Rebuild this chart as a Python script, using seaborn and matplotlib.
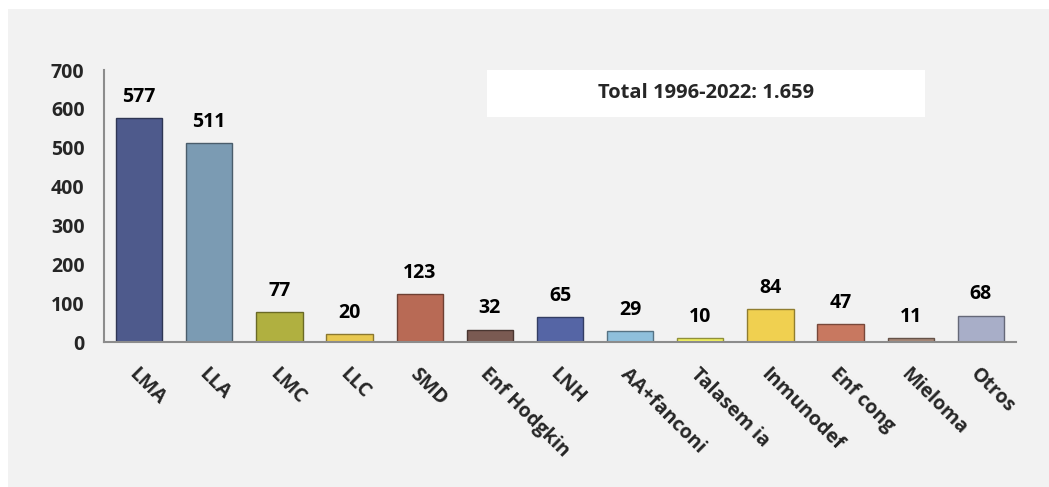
import matplotlib
matplotlib.use("Agg")
import matplotlib.pyplot as plt
import matplotlib.patches as mpatches
import seaborn as sns
import pandas as pd

# data
categories = ["LMA", "LLA", "LMC", "LLC", "SMD", "Enf Hodgkin", "LNH",
              "AA+fanconi", "Talasem ia", "Inmunodef", "Enf cong", "Mieloma", "Otros"]
values = [577, 511, 77, 20, 123, 32, 65, 29, 10, 84, 47, 11, 68]
bar_colors = ["#4e5a8c", "#7b9bb3", "#b0b040", "#e8c850", "#b86a55", "#7a5a52",
              "#5565a5", "#8fc0dc", "#f0f060", "#f0d050", "#c87860", "#a88878", "#a8aec8"]
y_ticks = [0, 100, 200, 300, 400, 500, 600, 700]
total_text = "Total 1996-2022: 1.659"

sns.set_style("white")
plt.rcParams["font.family"] = ["Open Sans", "DejaVu Sans"]
plt.rcParams["font.weight"] = "bold"

df = pd.DataFrame({"cat": categories, "val": values})

fig = plt.figure(figsize=(10.49, 4.87), dpi=100, facecolor="white")
# gray chart area
bg = mpatches.Rectangle((8 / 1049, 0), 1 - 8 / 1049, 1 - 9 / 487,
                        transform=fig.transFigure, facecolor="#f2f2f2",
                        edgecolor="none", zorder=-10)
fig.patches.append(bg)

ax = fig.add_axes([104 / 1049, 1 - 342 / 487, (1016 - 104) / 1049, (342 - 70) / 487])
ax.set_facecolor("none")
ax.set_zorder(2)

sns.barplot(data=df, x="cat", y="val", hue="cat", palette=bar_colors,
            legend=False, width=0.66, ax=ax, saturation=1)

for patch, c in zip(ax.patches, bar_colors):
    r, g, b, _ = matplotlib.colors.to_rgba(c)
    patch.set_edgecolor((r * 0.6, g * 0.6, b * 0.6))
    patch.set_linewidth(1.0)

for cont in ax.containers:
    ax.bar_label(cont, padding=8, fontsize=14, fontweight="bold", color="black")

ax.set_xlim(-0.5, len(categories) - 0.5)
ax.set_ylim(0, 700)
ax.set_yticks(y_ticks)
ax.set_xlabel("")
ax.set_ylabel("")

ax.set_xticks(range(len(categories)))
ax.set_xticklabels(categories, rotation=-45, ha="left", va="top",
                   rotation_mode="anchor", fontsize=14, fontweight="bold")
ax.set_xticks([i - 0.5 for i in range(len(categories) + 1)], minor=True)
ax.tick_params(axis="x", which="major", length=0, pad=16)
ax.tick_params(axis="x", which="minor", length=6, color="#8c8c8c", width=1.2, direction="out")
ax.tick_params(axis="y", length=6, color="#8c8c8c", width=1.2, direction="out",
               labelsize=14, pad=8)
for lab in ax.get_yticklabels():
    lab.set_fontweight("bold")
for lab in ax.get_xticklabels():
    x, y = lab.get_position()
    lab.set_x(x - 0.15)

for side in ["top", "right"]:
    ax.spines[side].set_visible(False)
for side in ["left", "bottom"]:
    ax.spines[side].set_color("#8c8c8c")
    ax.spines[side].set_linewidth(1.5)

# total box
box = mpatches.Rectangle((487 / 1049, 1 - 117 / 487), (925 - 487) / 1049, 47 / 487,
                         transform=fig.transFigure, facecolor="white",
                         edgecolor="none", zorder=-5)
fig.patches.append(box)
fig.text(706 / 1049, 1 - 93 / 487, total_text, ha="center", va="center",
         fontsize=14.5, fontweight="bold", zorder=5)

fig.savefig("out.png", dpi=100, facecolor="white")
